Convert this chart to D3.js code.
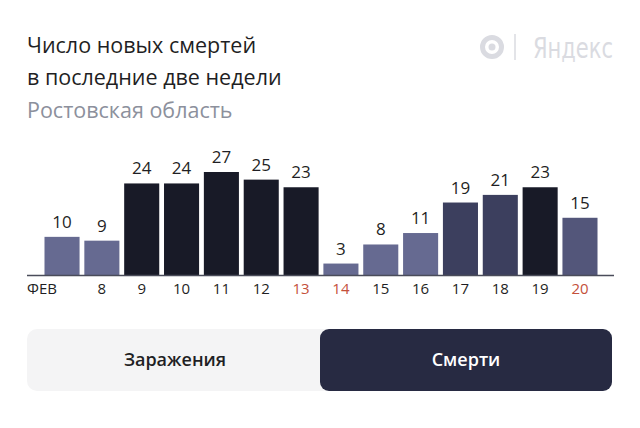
<!DOCTYPE html>
<html>
<head>
<meta charset="utf-8">
<script src="https://cdn.jsdelivr.net/npm/d3@7"></script>
<style>
  html, body { margin: 0; padding: 0; background: #fff; }
  svg { display: block; font-family: "Open Sans", "Noto Sans", sans-serif; }
</style>
</head>
<body>
<div id="chart"></div>
<script>
// данные
var days = ["7", "8", "9", "10", "11", "12", "13", "14", "15", "16", "17", "18", "19", "20"];
var deaths = [10, 9, 24, 24, 27, 25, 23, 3, 8, 11, 19, 21, 23, 15];
var tickLabels = ["ФЕВ", "8", "9", "10", "11", "12", "13", "14", "15", "16", "17", "18", "19", "20"];
var weekend = ["13", "14", "20"];

var width = 640, height = 428;
var svg = d3.select("#chart").append("svg")
    .attr("width", width)
    .attr("height", height);

// заголовок
svg.append("text").attr("x", 27).attr("y", 53)
    .style("font-size", "21.5px").style("fill", "#1f1f24")
    .text("Число новых смертей");
svg.append("text").attr("x", 27).attr("y", 85)
    .style("font-size", "21.5px").style("fill", "#1f1f24")
    .text("в последние две недели");
svg.append("text").attr("x", 27).attr("y", 118)
    .style("font-size", "21.5px").style("fill", "#8c909c")
    .text("Ростовская область");

// логотип
var logo = svg.append("g").attr("transform", "translate(492,47)");
logo.append("circle").attr("r", 9.5).style("fill", "none")
    .style("stroke", "#dadbe1").style("stroke-width", 5);
logo.append("circle").attr("r", 3.5).style("fill", "#dadbe1");
svg.append("line").attr("x1", 515).attr("x2", 515).attr("y1", 34).attr("y2", 60)
    .style("stroke", "#dadbe1").style("stroke-width", 1.5);
svg.append("text").attr("x", 533).attr("y", 58)
    .attr("textLength", 80).attr("lengthAdjust", "spacingAndGlyphs")
    .style("font-family", "'DejaVu Sans Condensed', sans-serif")
    .style("font-size", "28px").style("fill", "#dadbe1")
    .text("Яндекс");

// столбики
var baseY = 275;
var x = d3.scaleBand().domain(days).range([42.5, 599.5]).paddingInner(0.12).paddingOuter(0.05);
var y = d3.scaleLinear().domain([0, 27]).range([baseY, 172]);
var color = d3.scaleThreshold().domain([12, 17, 22])
    .range(["#666a91", "#53567a", "#3c3f5e", "#181a27"]);

var node = svg.selectAll(".bar")
    .data(deaths)
    .enter().append("g")
    .attr("class", "bar");

node.append("rect")
    .attr("x", function (d, i) { return x(days[i]); })
    .attr("y", function (d) { return y(d); })
    .attr("width", x.bandwidth())
    .attr("height", function (d) { return baseY - y(d); })
    .style("fill", function (d) { return color(d); });

node.append("text")
    .attr("x", function (d, i) { return x(days[i]) + x.bandwidth() / 2; })
    .attr("y", function (d) { return y(d) - 9; })
    .attr("text-anchor", "middle")
    .style("font-size", "17px")
    .style("fill", "#1f1f24")
    .text(function (d) { return d; });

// ось
svg.append("line")
    .attr("x1", 27).attr("x2", 614)
    .attr("y1", baseY + 0.5).attr("y2", baseY + 0.5)
    .style("stroke", "#4a4c5a").style("stroke-width", 1.5);

svg.selectAll(".tick-label")
    .data(days)
    .enter().append("text")
    .attr("class", "tick-label")
    .attr("x", function (d, i) { return i == 0 ? 27 : x(d) + x.bandwidth() / 2; })
    .attr("y", 294)
    .attr("text-anchor", function (d, i) { return i == 0 ? "start" : "middle"; })
    .style("font-size", "15px")
    .style("fill", function (d) { return weekend.indexOf(d) >= 0 ? "#c4503b" : "#1f1f24"; })
    .text(function (d, i) { return tickLabels[i]; });

// переключатель
svg.append("rect").attr("x", 27).attr("y", 329).attr("width", 585).attr("height", 62)
    .attr("rx", 10).style("fill", "#f4f4f5");
svg.append("rect").attr("x", 320).attr("y", 329).attr("width", 292).attr("height", 62)
    .attr("rx", 9).style("fill", "#272a42");
svg.append("text").attr("x", 175).attr("y", 366).attr("text-anchor", "middle")
    .style("font-size", "18px").style("font-weight", 600).style("fill", "#1f1f24")
    .text("Заражения");
svg.append("text").attr("x", 466).attr("y", 366).attr("text-anchor", "middle")
    .style("font-size", "18px").style("font-weight", 600).style("fill", "#fff")
    .text("Смерти");
</script>
</body>
</html>
